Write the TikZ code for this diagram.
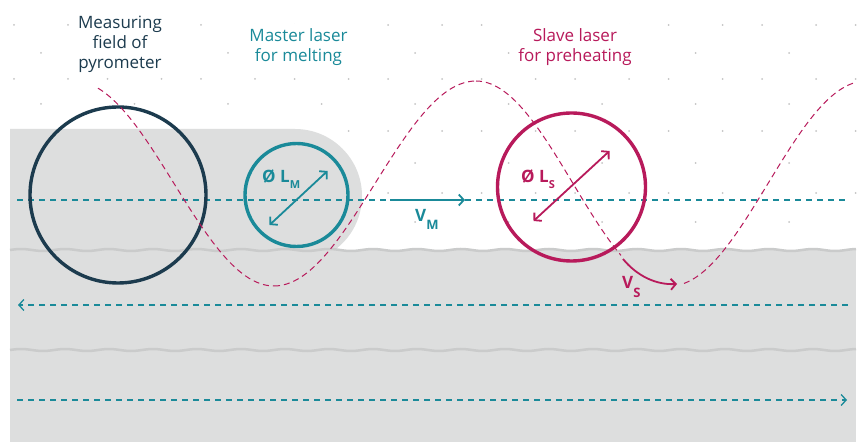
\documentclass[tikz,border=0pt]{standalone}
\usepackage{fontspec}
\setmainfont{Open Sans}
\usepackage{tikz}
\usetikzlibrary{arrows.meta,calc}

\definecolor{pyronavy}{HTML}{1C3B4E}
\definecolor{laserteal}{HTML}{1A8A99}
\definecolor{lasermag}{HTML}{B81A5B}
\definecolor{bedgray}{HTML}{DDDEDE}
\definecolor{wavegray}{HTML}{CACBCB}
\definecolor{dotgray}{HTML}{C4C4C4}
\newcommand\lowsub[3]{\raisebox{-#1}{\fontsize{#2}{#2}\selectfont #3}}

\begin{document}
\begin{tikzpicture}[x=1pt, y=1pt,
  font=\fontsize{17}{20}\selectfont,
  spot/.style={draw, circle, line width=3.4pt, inner sep=0pt},
  ttl/.style={align=center, fill=white, inner sep=4pt},
  track/.style={laserteal, line width=1.3pt, dash pattern=on 6pt off 5pt},
  scan/.style={lasermag, line width=1pt, dash pattern=on 6pt off 4pt},
  wave/.style={wavegray, line width=2.5pt},
  arr/.style={-{Straight Barb[length=5pt,width=11pt]}, line width=1.8pt},
  darr/.style={{Straight Barb[length=5pt,width=11pt]}-{Straight Barb[length=5pt,width=11pt]}, line width=1.8pt},
  lab/.style={inner sep=0pt, anchor=base west, font=\fontsize{17}{17}\selectfont\bfseries}]
  \useasboundingbox (0,0) rectangle (862,442);
  \fill[white] (0,0) rectangle (862,442);
  % dot raster above the powder bed
  \foreach \y in {417,363,311,249}
    \foreach \k in {0,...,9} {
      \fill[dotgray] (14+93.5*\k,\y) circle (1pt);
      \fill[dotgray] (68+93.5*\k,\y) circle (1pt);
    }
  \foreach \y in {389,338,279,220}
    \foreach \k in {0,...,8}
      \fill[dotgray] (41+93.5*\k,\y) circle (1pt);
  % melt track and powder layers
  \fill[bedgray] (10,192) -- (10,313) -- (295,313) arc[start angle=90, end angle=-53.7, radius=67] -- cycle;
  \fill[bedgray] (10,0) rectangle (856,192);
  \draw[wave] plot[domain=10:856, samples=260, smooth] (\x, {192+1.0*sin(8.1818*(\x-10))});
  \draw[wave] plot[domain=10:856, samples=260, smooth] (\x, {92+1.0*sin(8.1818*(\x-10))});
  % scan lines
  \coordinate (t0) at (17,242);
  \coordinate (vm0) at (390,242);
  \coordinate (vm1) at (465,242);
  \coordinate (t1) at (848,242);
  \coordinate (b0) at (848,137);
  \coordinate (b1) at (18,137);
  \coordinate (c0) at (17,42);
  \coordinate (c1) at (847,42);
  \draw[track] (t0) -- (vm0);
  \draw[track] (vm1) -- (t1);
  \draw[track, arr, line width=1.3pt] (b0) -- (b1);
  \draw[track, arr, line width=1.3pt] (c0) -- (c1);
  % spots
  \node[spot, pyronavy, minimum size=176pt] (pyro) at (118,247) {};
  \node[spot, laserteal, minimum size=103pt] (master) at (296.5,247) {};
  \node[spot, lasermag, minimum size=148pt] (slave) at (571.5,255) {};
  % oscillating path of the slave laser
  \draw[scan] plot[domain=98:274, samples=50, smooth] (\x, {258.5+102.5*cos(0.9*(\x-74))});
  \draw[scan] plot[domain=274:476, samples=50, smooth] (\x, {258.5-102.5*cos(0.891089*(\x-274))});
  \draw[scan] plot[domain=476:621, samples=40, smooth] (\x, {258.5+102.5*cos(0.927835*(\x-476))});
  \draw[scan] plot[domain=684:856, samples=50, smooth] (\x, {258.5-102.5*cos(0.918367*(\x-670))});
  \coordinate (vs0) at (623,183);
  \coordinate (vs1) at (677,158);
  \draw[arr, lasermag] (vs0) .. controls (637,166) and (656,157) .. (vs1);
  % velocities and diameters
  \draw[arr, laserteal] (vm0) -- (vm1);
  \draw[darr, laserteal] ($(master.center)+(-27,-30)$) -- ($(master.center)+(31,24)$);
  \draw[darr, lasermag] ($(slave.center)+(-38,-34)$) -- ($(slave.center)+(38,36)$);
  \node[lab, text=laserteal] (lm) at (262,259) {Ø L\lowsub{6pt}{11}{M}};
  \node[lab, text=lasermag] (ls) at (521,259) {Ø L\lowsub{6pt}{11}{S}};
  \node[lab, text=laserteal] (vm) at (415,220) {V\lowsub{8pt}{13}{M}};
  \node[lab, text=lasermag] (vs) at (622,153) {V\lowsub{9pt}{13}{S}};
  % titles
  \node[ttl, text=pyronavy] (pyrotxt) at (120,398) {Measuring\\field of\\pyrometer};
  \node[ttl, text=laserteal] (mastertxt) at (298.5,395) {Master laser\\for melting};
  \node[ttl, text=lasermag] (slavetxt) at (575,395) {Slave laser\\for preheating};
\end{tikzpicture}
\end{document}
